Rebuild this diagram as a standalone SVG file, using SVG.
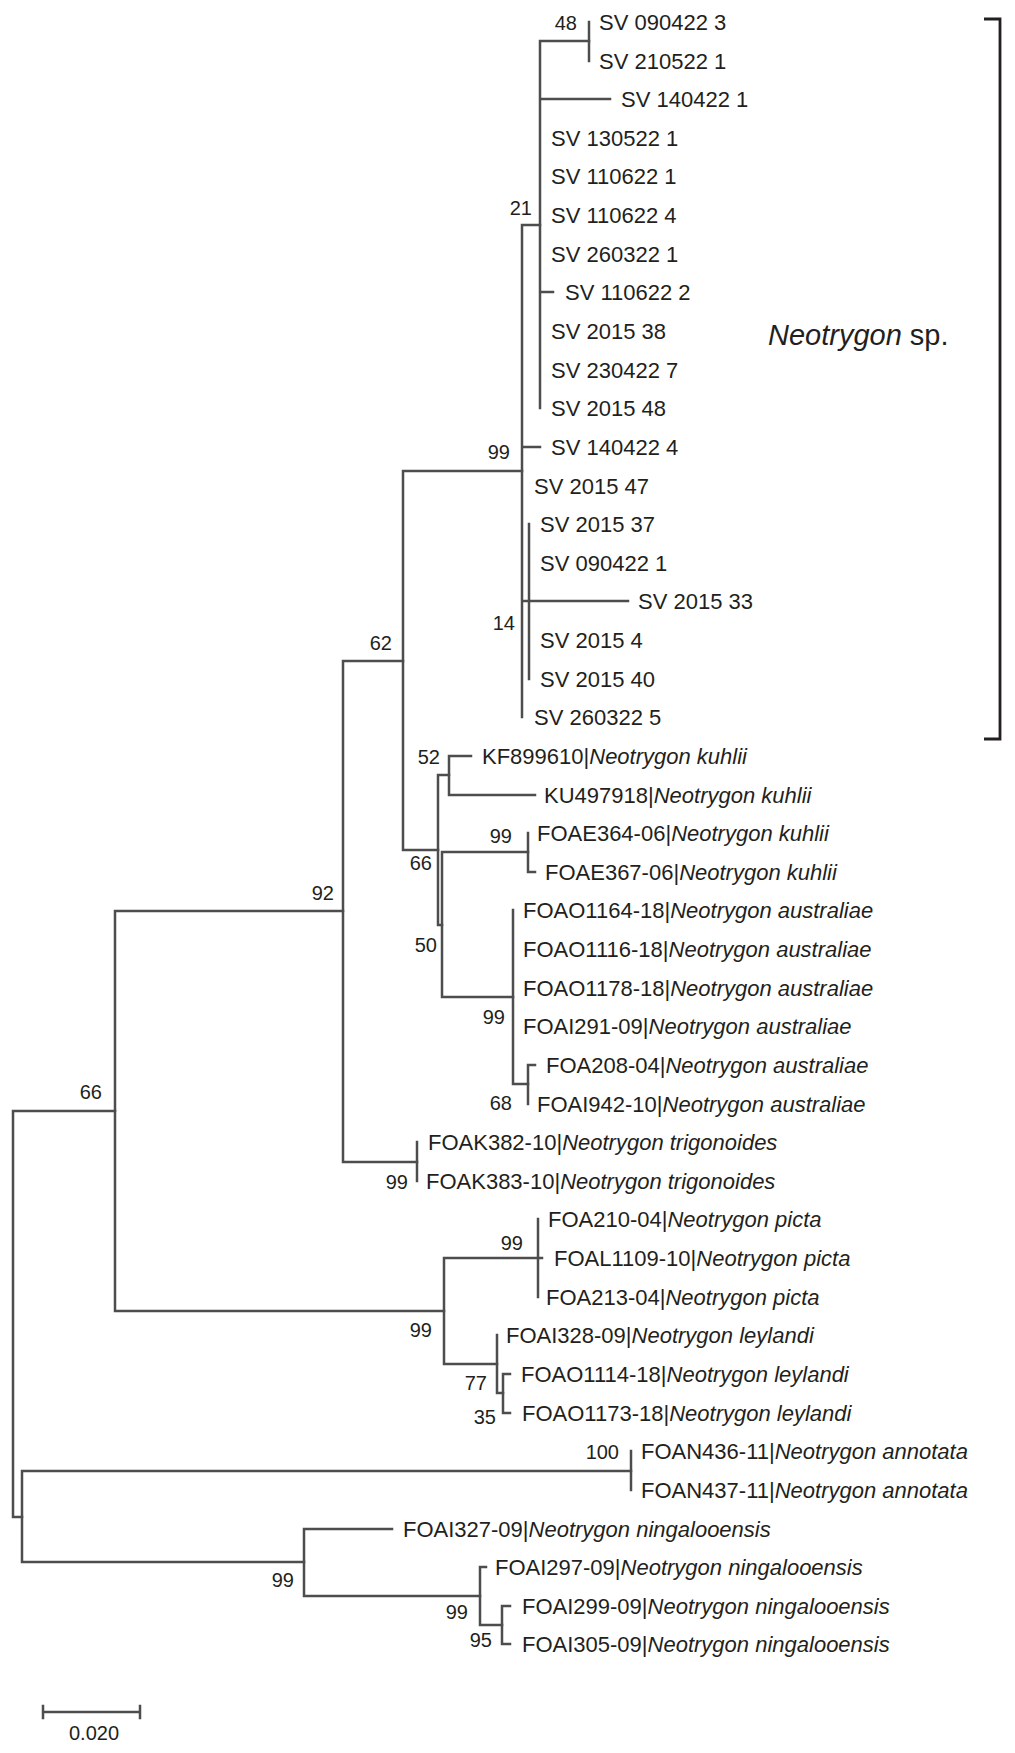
<svg xmlns="http://www.w3.org/2000/svg" width="1015" height="1753" viewBox="0 0 1015 1753">
<style>
.e{fill:none;stroke:#4d4d4d;stroke-width:2.5;stroke-linecap:square}
.t{font-family:"Liberation Sans",Arial,sans-serif;font-size:22px;fill:#231f20}
.b{font-family:"Liberation Sans",Arial,sans-serif;font-size:20px;fill:#231f20;text-anchor:end}
.i{font-style:italic}
</style>
<rect width="1015" height="1753" fill="#fff"/>
<g id="connectors">
<path class="e" d="M13 1111V1517M13 1111H115M13 1517H22"/>
<path class="e" d="M115 911V1311M115 911H343M115 1311H444"/>
<path class="e" d="M343 661V1162M343 661H403M343 1162H417"/>
<path class="e" d="M403 471V850M403 471H522M403 850H438"/>
<path class="e" d="M522 225V717M522 225H540M522 447H540M522 601H529"/>
<path class="e" d="M540 41V408M540 41H589M540 99H610M540 292H553"/>
<path class="e" d="M589 22V61"/>
<path class="e" d="M529 524V679M529 601H628"/>
<path class="e" d="M438 775V925M438 775H449M438 925H442"/>
<path class="e" d="M449 756V795M449 756H471M449 795H535"/>
<path class="e" d="M442 852V997M442 852H528M442 997H513"/>
<path class="e" d="M528 833V872M528 872H535"/>
<path class="e" d="M513 910V1084M513 1084H528"/>
<path class="e" d="M528 1065V1104M528 1065H535"/>
<path class="e" d="M417 1142V1181"/>
<path class="e" d="M444 1258V1364M444 1258H538M444 1364H497"/>
<path class="e" d="M538 1219V1297M538 1258H542"/>
<path class="e" d="M497 1335V1393M497 1393H503"/>
<path class="e" d="M503 1374V1413M503 1374H510M503 1413H510"/>
<path class="e" d="M22 1471V1562M22 1471H631M22 1562H304"/>
<path class="e" d="M631 1451V1490"/>
<path class="e" d="M304 1529V1596M304 1529H392M304 1596H480"/>
<path class="e" d="M480 1567V1625M480 1567H486M480 1625H502"/>
<path class="e" d="M502 1606V1644M502 1606H510M502 1644H510"/>
<path d="M984 19H1000V739H984" fill="none" stroke="#231f20" stroke-width="2.8"/>
<path class="e" d="M43 1712H140M43 1706V1718M140 1706V1718"/>
</g>
<g id="tips">
<g id="tip0"><text class="t" x="599" y="30">SV 090422 3</text></g>
<g id="tip1"><text class="t" x="599" y="69">SV 210522 1</text></g>
<g id="tip2"><text class="t" x="621" y="107">SV 140422 1</text></g>
<g id="tip3"><text class="t" x="551" y="146">SV 130522 1</text></g>
<g id="tip4"><text class="t" x="551" y="184">SV 110622 1</text></g>
<g id="tip5"><text class="t" x="551" y="223">SV 110622 4</text></g>
<g id="tip6"><text class="t" x="551" y="262">SV 260322 1</text></g>
<g id="tip7"><text class="t" x="565" y="300">SV 110622 2</text></g>
<g id="tip8"><text class="t" x="551" y="339">SV 2015 38</text></g>
<g id="tip9"><text class="t" x="551" y="378">SV 230422 7</text></g>
<g id="tip10"><text class="t" x="551" y="416">SV 2015 48</text></g>
<g id="tip11"><text class="t" x="551" y="455">SV 140422 4</text></g>
<g id="tip12"><text class="t" x="534" y="494">SV 2015 47</text></g>
<g id="tip13"><text class="t" x="540" y="532">SV 2015 37</text></g>
<g id="tip14"><text class="t" x="540" y="571">SV 090422 1</text></g>
<g id="tip15"><text class="t" x="638" y="609">SV 2015 33</text></g>
<g id="tip16"><text class="t" x="540" y="648">SV 2015 4</text></g>
<g id="tip17"><text class="t" x="540" y="687">SV 2015 40</text></g>
<g id="tip18"><text class="t" x="534" y="725">SV 260322 5</text></g>
<g id="tip19"><text class="t" x="482" y="764">KF899610|<tspan class="i">Neotrygon kuhlii</tspan></text></g>
<g id="tip20"><text class="t" x="544" y="803">KU497918|<tspan class="i">Neotrygon kuhlii</tspan></text></g>
<g id="tip21"><text class="t" x="537" y="841">FOAE364-06|<tspan class="i">Neotrygon kuhlii</tspan></text></g>
<g id="tip22"><text class="t" x="545" y="880">FOAE367-06|<tspan class="i">Neotrygon kuhlii</tspan></text></g>
<g id="tip23"><text class="t" x="523" y="918">FOAO1164-18|<tspan class="i">Neotrygon australiae</tspan></text></g>
<g id="tip24"><text class="t" x="523" y="957">FOAO1116-18|<tspan class="i">Neotrygon australiae</tspan></text></g>
<g id="tip25"><text class="t" x="523" y="996">FOAO1178-18|<tspan class="i">Neotrygon australiae</tspan></text></g>
<g id="tip26"><text class="t" x="523" y="1034">FOAI291-09|<tspan class="i">Neotrygon australiae</tspan></text></g>
<g id="tip27"><text class="t" x="546" y="1073">FOA208-04|<tspan class="i">Neotrygon australiae</tspan></text></g>
<g id="tip28"><text class="t" x="537" y="1112">FOAI942-10|<tspan class="i">Neotrygon australiae</tspan></text></g>
<g id="tip29"><text class="t" x="428" y="1150">FOAK382-10|<tspan class="i">Neotrygon trigonoides</tspan></text></g>
<g id="tip30"><text class="t" x="426" y="1189">FOAK383-10|<tspan class="i">Neotrygon trigonoides</tspan></text></g>
<g id="tip31"><text class="t" x="548" y="1227">FOA210-04|<tspan class="i">Neotrygon picta</tspan></text></g>
<g id="tip32"><text class="t" x="554" y="1266">FOAL1109-10|<tspan class="i">Neotrygon picta</tspan></text></g>
<g id="tip33"><text class="t" x="546" y="1305">FOA213-04|<tspan class="i">Neotrygon picta</tspan></text></g>
<g id="tip34"><text class="t" x="506" y="1343">FOAI328-09|<tspan class="i">Neotrygon leylandi</tspan></text></g>
<g id="tip35"><text class="t" x="521" y="1382">FOAO1114-18|<tspan class="i">Neotrygon leylandi</tspan></text></g>
<g id="tip36"><text class="t" x="522" y="1421">FOAO1173-18|<tspan class="i">Neotrygon leylandi</tspan></text></g>
<g id="tip37"><text class="t" x="641" y="1459">FOAN436-11|<tspan class="i">Neotrygon annotata</tspan></text></g>
<g id="tip38"><text class="t" x="641" y="1498">FOAN437-11|<tspan class="i">Neotrygon annotata</tspan></text></g>
<g id="tip39"><text class="t" x="403" y="1537">FOAI327-09|<tspan class="i">Neotrygon ningalooensis</tspan></text></g>
<g id="tip40"><text class="t" x="495" y="1575">FOAI297-09|<tspan class="i">Neotrygon ningalooensis</tspan></text></g>
<g id="tip41"><text class="t" x="522" y="1614">FOAI299-09|<tspan class="i">Neotrygon ningalooensis</tspan></text></g>
<g id="tip42"><text class="t" x="522" y="1652">FOAI305-09|<tspan class="i">Neotrygon ningalooensis</tspan></text></g>
</g>
<g id="nodes">
<g id="n48"><text class="b" x="577" y="30">48</text></g>
<g id="n21"><text class="b" x="532" y="215">21</text></g>
<g id="n99sp"><text class="b" x="510" y="459">99</text></g>
<g id="n14"><text class="b" x="515" y="630">14</text></g>
<g id="n62"><text class="b" x="392" y="650">62</text></g>
<g id="n52"><text class="b" x="440" y="764">52</text></g>
<g id="n99e"><text class="b" x="512" y="843">99</text></g>
<g id="n66i"><text class="b" x="432" y="870">66</text></g>
<g id="n92"><text class="b" x="334" y="900">92</text></g>
<g id="n50"><text class="b" x="437" y="952">50</text></g>
<g id="n99a"><text class="b" x="505" y="1024">99</text></g>
<g id="n66o"><text class="b" x="102" y="1099">66</text></g>
<g id="n68"><text class="b" x="512" y="1110">68</text></g>
<g id="n99t"><text class="b" x="408" y="1189">99</text></g>
<g id="n99p"><text class="b" x="523" y="1250">99</text></g>
<g id="n99pl"><text class="b" x="432" y="1337">99</text></g>
<g id="n77"><text class="b" x="487" y="1390">77</text></g>
<g id="n35"><text class="b" x="496" y="1424">35</text></g>
<g id="n100"><text class="b" x="619" y="1459">100</text></g>
<g id="n99n"><text class="b" x="294" y="1587">99</text></g>
<g id="n99b"><text class="b" x="468" y="1619">99</text></g>
<g id="n95"><text class="b" x="492" y="1647">95</text></g>
</g>
<g id="clade-label"><text class="t" style="font-size:29px" x="768" y="345"><tspan class="i">Neotrygon</tspan> sp.</text></g>
<g id="scale-bar"><text class="t" style="font-size:20px" x="94" y="1740" text-anchor="middle">0.020</text></g>
</svg>
